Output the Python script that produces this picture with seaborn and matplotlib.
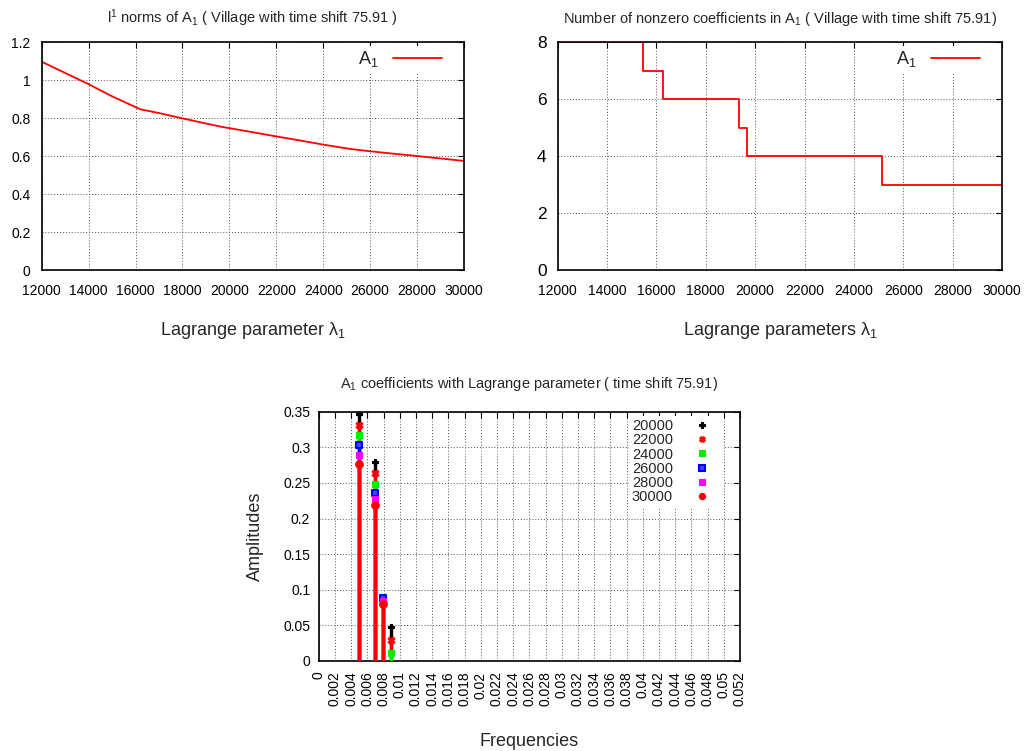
import numpy as np
import pandas as pd
import matplotlib
matplotlib.use("Agg")
import matplotlib.pyplot as plt
from matplotlib.ticker import FormatStrFormatter, MultipleLocator
from matplotlib.lines import Line2D
import seaborn as sns

# l1 norm of A_1 against the Lagrange parameter
lam_norm = [12000, 13000, 14000, 15000, 16200, 17000, 18000, 19000, 19650,
            21000, 22000, 23000, 24000, 25150, 26000, 27000, 28000, 29000, 30000]
l1_norm = [1.096, 1.037, 0.978, 0.914, 0.846, 0.826, 0.798, 0.771, 0.754,
           0.725, 0.703, 0.682, 0.660, 0.637, 0.625, 0.612, 0.600, 0.587, 0.574]

# number of nonzero coefficients (step function)
lam_steps = [12000, 15440, 16250, 19340, 19650, 25150, 30000]
n_nonzero = [8, 7, 6, 5, 4, 3, 3]

# coefficient amplitudes for several Lagrange parameters
freqs = [0.00495, 0.00693, 0.00792, 0.00891]
lam_labels = ["20000", "22000", "24000", "26000", "28000", "30000"]
amps = {
    "20000": [0.347, 0.279, 0.079, 0.048],
    "22000": [0.332, 0.264, 0.081, 0.0295],
    "24000": [0.317, 0.248, 0.083, 0.011],
    "26000": [0.303, 0.236, 0.088, 0.0],
    "28000": [0.289, 0.227, 0.084, 0.0],
    "30000": [0.276, 0.219, 0.080, 0.0],
}

sns.set_style("white")
plt.rcParams["font.family"] = ["Liberation Sans", "DejaVu Sans"]
plt.rcParams["mathtext.fontset"] = "custom"
plt.rcParams["mathtext.rm"] = "Liberation Sans"
plt.rcParams["mathtext.it"] = "Liberation Sans"

fig = plt.figure(figsize=(10.29, 7.51), dpi=100)
W, H = 1029.0, 751.0


def box(l, t, r, b):
    return [l / W, 1 - b / H, (r - l) / W, (b - t) / H]


def gnuplot_look(ax, xpad, ypad):
    ax.grid(True, color="#555555", linestyle=(0, (1, 2)), linewidth=0.7)
    ax.set_axisbelow(True)
    for s in ax.spines.values():
        s.set_color("black")
        s.set_linewidth(1.2)
    ax.tick_params(direction="in", top=True, right=True, length=4,
                   labelsize=10, colors="black")
    ax.tick_params(axis="x", pad=xpad)
    ax.tick_params(axis="y", pad=ypad)


def key(ax, shift, **kw):
    ax.legend(loc="upper right", bbox_to_anchor=(1 - shift, 1), markerfirst=False,
              frameon=True, framealpha=1, edgecolor="none", fancybox=False,
              borderaxespad=0.2, borderpad=0.2, **kw)


# --- top left
ax1 = fig.add_axes(box(41.7, 42, 464, 270))
df1 = pd.DataFrame({"lam": lam_norm, "l1": l1_norm})
sns.lineplot(data=df1, x="lam", y="l1", ax=ax1, color="red", lw=1.3,
             label=r"A$_1$")
ax1.set_xlim(12000, 30000)
ax1.set_ylim(0, 1.2)
ax1.xaxis.set_major_locator(MultipleLocator(2000))
ax1.yaxis.set_major_locator(MultipleLocator(0.2))
ax1.yaxis.set_major_formatter(FormatStrFormatter("%g"))
gnuplot_look(ax1, 10, 8)
ax1.set_title(r"l$^1$ norms of A$_1$ ( Village with time shift 75.91 )",
              fontsize=10.5, pad=14)
ax1.set_xlabel(r"Lagrange parameter $\lambda_1$", fontsize=13, labelpad=16)
ax1.set_ylabel("")
key(ax1, 15 / 422.3, fontsize=13, handlelength=2.7)

# --- top right
ax2 = fig.add_axes(box(557.7, 42, 1002, 270))
df2 = pd.DataFrame({"lam": lam_steps, "n": n_nonzero})
sns.lineplot(data=df2, x="lam", y="n", ax=ax2, color="red", lw=1.3,
             drawstyle="steps-post", label=r"A$_1$")
ax2.set_xlim(12000, 30000)
ax2.set_ylim(0, 8)
ax2.xaxis.set_major_locator(MultipleLocator(2000))
ax2.yaxis.set_major_locator(MultipleLocator(2))
gnuplot_look(ax2, 10, 8)
ax2.tick_params(axis="y", labelsize=12.5)
ax2.set_title(r"Number of nonzero coefficients in A$_1$ ( Village with time shift 75.91)",
              fontsize=10.5, pad=14)
ax2.set_xlabel(r"Lagrange parameters $\lambda_1$", fontsize=13, labelpad=16)
ax2.set_ylabel("")
key(ax2, 15 / 444.3, fontsize=13, handlelength=2.7)

# --- bottom: stems
ax3 = fig.add_axes(box(318.7, 411.7, 740, 661))
styles = {
    "20000": dict(color="black", marker="P", ms=5, mfc="black", mec="black"),
    "22000": dict(color="red", marker="X", ms=5, mfc="red", mec="red"),
    "24000": dict(color="#00ee00", marker="s", ms=5, mfc="#00ee00", mec="#00ee00"),
    "26000": dict(color="blue", marker="s", ms=5, mfc="#4444ff", mec="blue", mew=1.5),
    "28000": dict(color="magenta", marker="s", ms=5, mfc="magenta", mec="magenta"),
    "30000": dict(color="red", marker="o", ms=5.5, mfc="red", mec="red"),
}
handles = []
for lab in lam_labels:
    st = styles[lab]
    a = np.array(amps[lab])
    f = np.array(freqs)
    keep = a > 0
    ax3.vlines(f[keep], 0, a[keep], color=st["color"], lw=2.4, zorder=3)
    dfp = pd.DataFrame({"f": f[keep], "a": a[keep]})
    sns.scatterplot(data=dfp, x="f", y="a", ax=ax3, marker=st["marker"],
                    s=st["ms"] ** 2, color=st["mfc"], edgecolor=st["mec"],
                    linewidth=st.get("mew", 0.8), zorder=4)
    handles.append(Line2D([], [], ls="none", marker=st["marker"], ms=st["ms"] - 1,
                          mfc=st["mfc"], mec=st["mec"], mew=st.get("mew", 0.8),
                          label=lab))
ax3.set_xlim(0, 0.052)
ax3.set_ylim(0, 0.35)
ax3.xaxis.set_major_locator(MultipleLocator(0.002))
ax3.yaxis.set_major_locator(MultipleLocator(0.05))
ax3.xaxis.set_major_formatter(FormatStrFormatter("%g"))
ax3.yaxis.set_major_formatter(FormatStrFormatter("%g"))
gnuplot_look(ax3, 7.5, 6)
ax3.tick_params(axis="x", labelrotation=90)
ax3.set_title(r"A$_1$ coefficients with Lagrange parameter ( time shift 75.91)",
              fontsize=10.5, pad=17)
ax3.set_xlabel("Frequencies", fontsize=13, labelpad=19)
ax3.set_ylabel("Amplitudes", fontsize=13, labelpad=14)
ax3.legend(handles=handles, loc="upper right", bbox_to_anchor=(1 - 13 / 421.3, 1),
           markerfirst=False, fontsize=10.5, handlelength=2.4, labelspacing=0.02,
           frameon=True, framealpha=1, edgecolor="none", fancybox=False,
           borderaxespad=0.3, borderpad=0.2)

fig.savefig("out.png", dpi=100)
